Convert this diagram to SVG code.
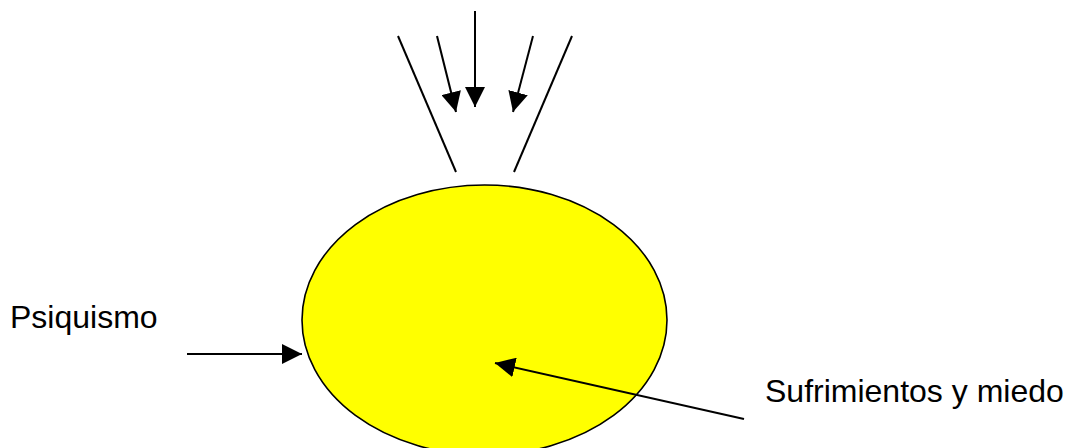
<svg xmlns="http://www.w3.org/2000/svg" width="1067" height="448" viewBox="0 0 1067 448">
<style>
.ln{stroke:#000;stroke-width:2;fill:none}
.arr{stroke:#000;stroke-width:2;fill:none;marker-end:url(#ah)}
.lbl{font-family:"Liberation Sans",Arial,sans-serif;font-size:32px;fill:#000}
</style>
<defs>
<marker id="ah" markerUnits="userSpaceOnUse" markerWidth="20" markerHeight="20" refX="20" refY="10" orient="auto" viewBox="0 0 20 20">
<path d="M0,0 L20,10 L0,20 z" fill="#000"/>
</marker>
</defs>
<rect width="1067" height="448" fill="#fff"/>
<g id="ellipse-node">
<ellipse cx="484.5" cy="320" rx="182.5" ry="135" fill="#ffff00" stroke="#000" stroke-width="1.6"/>
</g>
<g id="psiquismo-node">
<text class="lbl" x="10" y="328">Psiquismo</text>
</g>
<g id="sufrimientos-node">
<text class="lbl" x="765" y="402">Sufrimientos y miedo</text>
</g>
<g id="connectors">
<line class="ln" x1="398" y1="36" x2="456" y2="172"/>
<line class="ln" x1="572" y1="36" x2="514" y2="172"/>
<line class="arr" x1="437" y1="36" x2="456" y2="112"/>
<line class="arr" x1="475" y1="11" x2="475" y2="107"/>
<line class="arr" x1="533" y1="36" x2="513" y2="112"/>
<line class="arr" x1="187" y1="354" x2="302" y2="354"/>
<line class="arr" x1="744" y1="419" x2="495" y2="363"/>
</g>
</svg>
